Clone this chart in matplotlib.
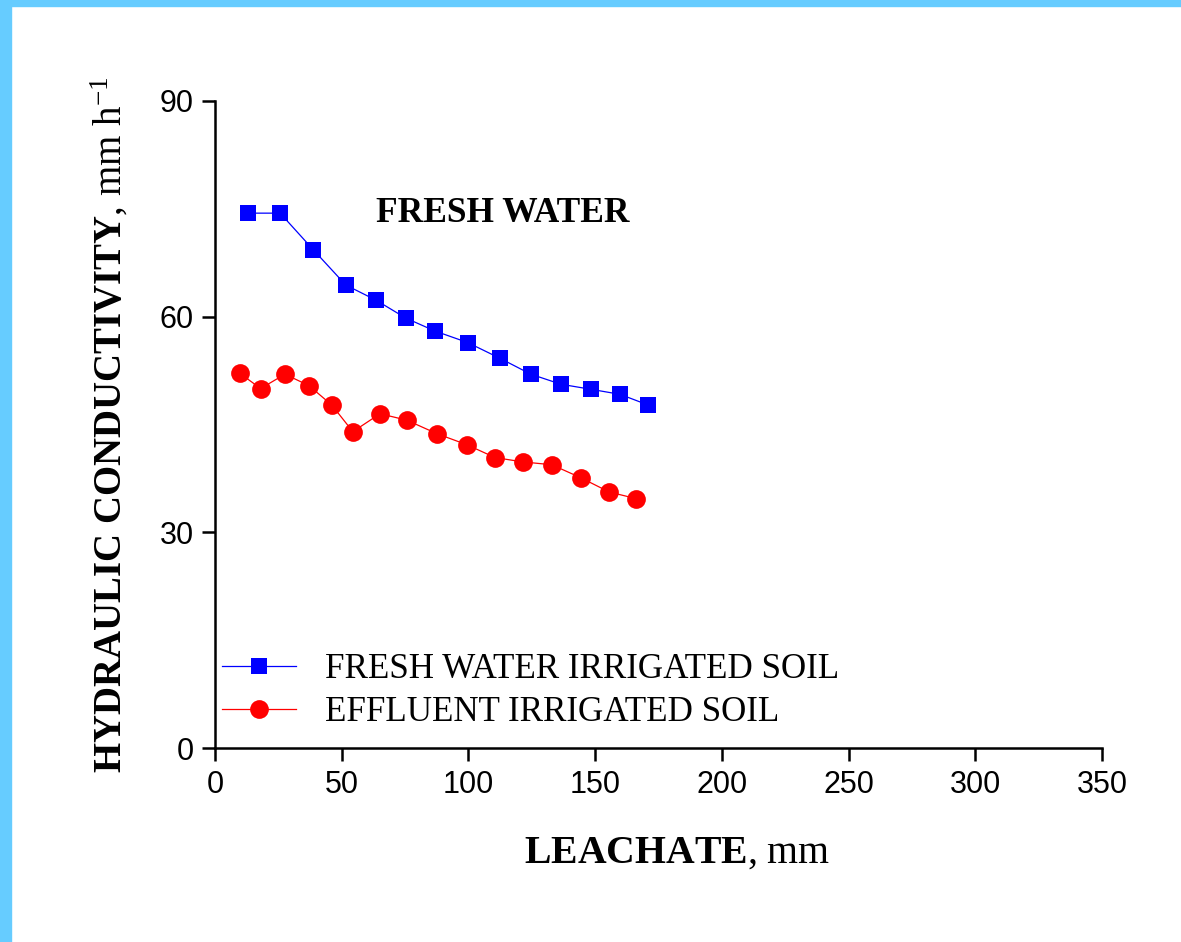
import matplotlib
matplotlib.use("Agg")
import matplotlib.pyplot as plt
from matplotlib.patches import Rectangle

# Data
fresh_x = [13.1, 25.7, 38.8, 51.6, 63.5, 75.3, 86.8, 99.7, 112.5, 124.6, 136.5, 148.3, 159.8, 171.0]
fresh_y = [74.4, 74.4, 69.3, 64.4, 62.3, 59.8, 58.0, 56.4, 54.2, 52.0, 50.6, 49.9, 49.2, 47.7]
eff_x = [9.9, 18.0, 27.6, 37.1, 46.1, 54.4, 65.1, 75.7, 87.7, 99.3, 110.5, 121.4, 132.9, 144.3, 155.6, 166.1]
eff_y = [52.1, 50.0, 52.0, 50.4, 47.7, 44.0, 46.5, 45.6, 43.7, 42.2, 40.4, 39.8, 39.4, 37.6, 35.6, 34.7]
x_ticks = [0, 50, 100, 150, 200, 250, 300, 350]
y_ticks = [0, 30, 60, 90]
labels = ["FRESH WATER IRRIGATED SOIL", "EFFLUENT IRRIGATED SOIL"]

plt.rcParams['mathtext.fontset'] = 'custom'
plt.rcParams['mathtext.rm'] = 'Liberation Serif'
plt.rcParams['mathtext.bf'] = 'Liberation Serif:bold'
plt.rcParams['mathtext.it'] = 'Liberation Serif:italic'

W, H = 1181, 942
fig = plt.figure(figsize=(W / 100, H / 100), dpi=100)

# light blue frame (left and top)
fig.patches.append(Rectangle((0, 0), 11 / W, 1, transform=fig.transFigure, color='#66CCFF', zorder=0))
fig.patches.append(Rectangle((0, 1 - 6 / H), 1, 6 / H, transform=fig.transFigure, color='#66CCFF', zorder=0))

x0, x1 = 215, 1102
y0, y1 = 748, 101
ax = fig.add_axes([x0 / W, 1 - y0 / H, (x1 - x0) / W, (y0 - y1) / H])

ax.plot(fresh_x, fresh_y, color='#0000FF', lw=0.9, marker='s', ms=11, mec='#0000FF', mew=0, label=labels[0])
ax.plot(eff_x, eff_y, color='#FF0000', lw=0.9, marker='o', ms=13.5, mec='#FF0000', mew=0, label=labels[1])

ax.set_xlim(0, 350)
ax.set_ylim(0, 90)
ax.set_xticks(x_ticks)
ax.set_yticks(y_ticks)
for s in ['top', 'right']:
    ax.spines[s].set_visible(False)
for s in ['left', 'bottom']:
    ax.spines[s].set_linewidth(1.8)
ax.tick_params(direction='out', length=9.5, width=1.8, labelsize=22, pad=6)
for lab in ax.get_xticklabels() + ax.get_yticklabels():
    lab.set_fontfamily('Liberation Sans')

ax.text(63.5, 73.1, "FRESH WATER", fontsize=25.5, fontweight='bold', family='Liberation Serif',
        ha='left', va='baseline')

leg = ax.legend(loc='center left', bbox_to_anchor=(0.008, 0.088), frameon=False,
                prop={'family': 'Liberation Serif', 'size': 25.2},
                handlelength=2.1, handletextpad=0.85, labelspacing=0.3,
                borderpad=0, borderaxespad=0)

fig.text(677 / W, 1 - 862.7 / H, r"$\mathbf{LEACHATE}$, mm", fontsize=28.6, family='Liberation Serif',
         ha='center', va='baseline')
fig.text(110 / W, 1 - 425 / H, r"$\mathbf{HYDRAULIC\ CONDUCTIVITY}$, mm h$^{\mathrm{-1}}$", fontsize=28,
         family='Liberation Serif', rotation=90, ha='center', va='center')

fig.savefig("out.png", dpi=100)
